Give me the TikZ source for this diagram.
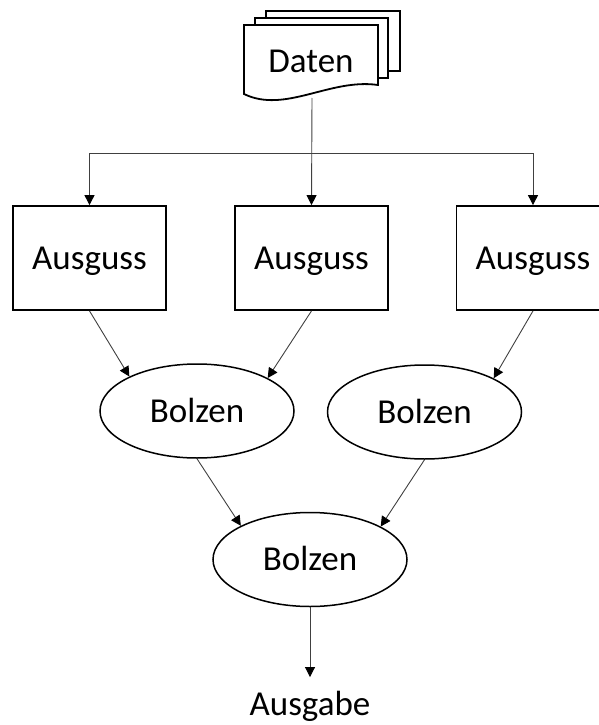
\documentclass[tikz,border=0pt]{standalone}
\usepackage{fontspec}
\setmainfont{Carlito}
\usetikzlibrary{shapes.geometric,arrows.meta}
\begin{document}
\begin{tikzpicture}[x=1pt,y=-1pt,
  every node/.style={font=\fontsize{35}{42}\selectfont, text height=22.5pt, text depth=0pt, inner sep=0pt},
  proc/.style={draw=black, line width=1.8pt, minimum width=153pt, minimum height=104pt, fill=white},
  merge/.style={ellipse, draw=black, line width=1.5pt, minimum width=194pt, minimum height=94pt},
  sheet/.style={draw=black, line width=1.8pt, fill=white, line join=miter},
  link/.style={draw=black!75, line width=0.9pt},
  flow/.style={link, -{Triangle[length=10pt,width=10pt,color=black]}}]
\useasboundingbox (0,0) rectangle (598,725);

% stacked document symbol for the input data
\draw[sheet] (266,11) rectangle (400,71);
\draw[sheet] (255,18) rectangle (388,78);
\draw[sheet] (244,25) -- (378,25) -- (378,85)
  .. controls (330,78) and (285,114) .. (244,94) -- cycle;
\node (daten) at (311,61.5) {Daten};
\coordinate (dout) at (312,98);

% pouring stages
\node[proc] (a1) at (89.5,258) {Ausguss};
\node[proc] (a2) at (311.5,258) {Ausguss};
\node[proc] (a3) at (533,258) {Ausguss};

% bolting stages
\node[merge] (b1) at (197,411) {Bolzen};
\node[merge] (b2) at (424.5,412) {Bolzen};
\node[merge] (b3) at (310,559.5) {Bolzen};

\node[inner ysep=16pt] (out) at (310,704.5) {Ausgabe};

% distribution bus
\coordinate (bus) at (312,153);
\draw[flow] (dout) -- (a2.north);
\draw[link] (a1.north |- bus) -- (a3.north |- bus);
\draw[flow] (a1.north |- bus) -- (a1.north);
\draw[flow] (a3.north |- bus) -- (a3.north);

% merging
\draw[flow] (a1.south) -- (b1.153.8);
\draw[flow] (a2.south) -- (b1.25);
\draw[flow] (a3.south) -- (b2.26);
\draw[flow] (b1.south) -- (b3.154.8);
\draw[flow] (b2.south) -- (b3.25);
\draw[flow] (b3.south) -- (out.north);
\end{tikzpicture}
\end{document}
